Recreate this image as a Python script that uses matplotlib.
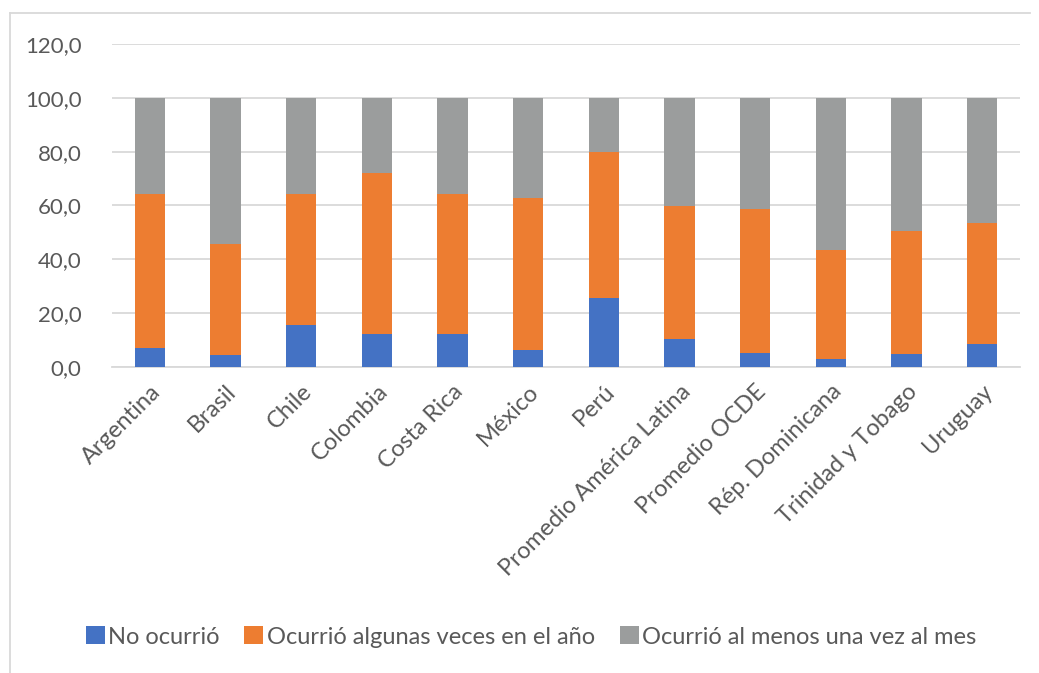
import matplotlib
matplotlib.use("Agg")
import matplotlib.pyplot as plt
from matplotlib.lines import Line2D
from matplotlib.ticker import FuncFormatter
import numpy as np

categories = ["Argentina", "Brasil", "Chile", "Colombia", "Costa Rica", "México",
              "Perú", "Promedio América Latina", "Promedio OCDE", "Rép. Dominicana",
              "Trinidad y Tobago", "Uruguay"]
no_ocurrio = [7.1, 4.6, 15.7, 12.4, 12.4, 6.4, 25.7, 10.4, 5.2, 3.1, 4.7, 8.7]
algunas_veces = [57.0, 41.2, 48.7, 59.7, 52.0, 56.4, 54.1, 49.6, 53.5, 40.3, 46.0, 44.8]
al_menos_mes = [35.9, 54.2, 35.6, 27.9, 35.6, 37.2, 20.2, 40.0, 41.3, 56.6, 49.3, 46.5]
series_names = ["No ocurrió", "Ocurrió algunas veces en el año", "Ocurrió al menos una vez al mes"]
yticks = [0, 20, 40, 60, 80, 100, 120]

colors = ["#4472C4", "#ED7D31", "#9B9D9D"]
text_color = "#595959"
plt.rcParams['font.family'] = ['Lato', 'DejaVu Sans']

fig = plt.figure(figsize=(10.39, 6.73), dpi=100)
ax = fig.add_axes([112/1039, 1-367/673, (1020-112)/1039, (367-44)/673])

x = np.arange(len(categories))
w = 0.40
b1 = np.array(no_ocurrio)
b2 = b1 + np.array(algunas_veces)
ax.bar(x, no_ocurrio, w, color=colors[0], label=series_names[0], zorder=3)
ax.bar(x, algunas_veces, w, bottom=b1, color=colors[1], label=series_names[1], zorder=3)
ax.bar(x, al_menos_mes, w, bottom=b2, color=colors[2], label=series_names[2], zorder=3)

ax.set_xlim(-0.5, len(categories) - 0.5)
ax.set_ylim(0, 120)
ax.set_yticks(yticks)
ax.yaxis.set_major_formatter(FuncFormatter(lambda v, p: f"{v:.1f}".replace(".", ",")))
ax.grid(axis="y", color="#d9d9d9", linewidth=1.3, zorder=0)
for s in ["top", "right", "left"]:
    ax.spines[s].set_visible(False)
ax.spines["bottom"].set_color("#d9d9d9")
ax.spines["bottom"].set_linewidth(1.3)
ax.tick_params(axis="both", length=0, colors=text_color)
ax.tick_params(axis="y", pad=22, labelsize=16)
ax.tick_params(axis="x", pad=10, labelsize=17)
ax.set_xticks(x)
ax.set_xticklabels(categories, rotation=45, ha="right", rotation_mode="anchor")

leg = fig.legend(loc="center", bbox_to_anchor=(531/1039, 1-637/673), ncol=3, frameon=False,
                 fontsize=17, handlelength=0.8, handleheight=0.8, handletextpad=0.15,
                 columnspacing=1.05, labelcolor=text_color)

# chart border (top and left visible)
fig.add_artist(Line2D([10/1039, 1030/1039], [1-13/673, 1-13/673], color="#d9d9d9", lw=1.3, transform=fig.transFigure))
fig.add_artist(Line2D([10/1039, 10/1039], [0, 1-13/673], color="#d9d9d9", lw=1.3, transform=fig.transFigure))

fig.savefig("out.png", dpi=100, facecolor="white")
